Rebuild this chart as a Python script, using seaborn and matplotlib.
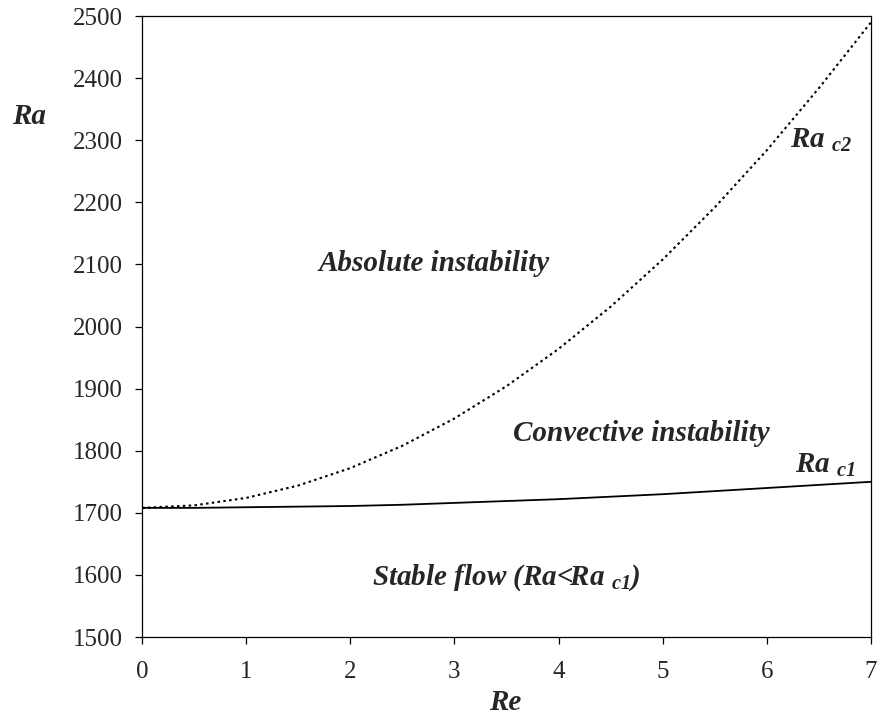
import matplotlib
matplotlib.use('Agg')
import matplotlib.pyplot as plt
import seaborn as sns
import pandas as pd

# stability boundaries
re_vals = [0, 0.5, 1, 1.5, 2, 2.5, 3, 3.5, 4, 4.5, 5, 5.5, 6, 6.5, 7]
ra_c1 = [1708, 1708, 1709, 1710, 1711, 1713, 1716, 1719, 1722, 1726, 1730, 1735, 1740, 1745, 1750]
ra_c2 = [1708, 1712, 1724, 1744, 1772, 1808, 1852, 1904, 1964, 2032, 2108, 2192, 2284, 2384, 2490]
x_ticks = [0, 1, 2, 3, 4, 5, 6, 7]
y_ticks = [1500, 1600, 1700, 1800, 1900, 2000, 2100, 2200, 2300, 2400, 2500]

sns.set_style("ticks")
plt.rcParams['font.family'] = ['Liberation Serif', 'DejaVu Serif']
plt.rcParams['mathtext.fontset'] = 'custom'
plt.rcParams['mathtext.rm'] = 'Liberation Serif'
plt.rcParams['mathtext.it'] = 'Liberation Serif:italic'
plt.rcParams['mathtext.bf'] = 'Liberation Serif:bold'
plt.rcParams['mathtext.bfit'] = 'Liberation Serif:italic:bold'

df = pd.DataFrame({'Re': re_vals, 'c1': ra_c1, 'c2': ra_c2})

fig = plt.figure(figsize=(8.8, 7.19), dpi=100)
ax = fig.add_axes([0.1614, 0.114, 0.9898 - 0.1614, 0.9777 - 0.114])

sns.lineplot(data=df, x='Re', y='c1', ax=ax, color='black', linewidth=1.3)
sns.lineplot(data=df, x='Re', y='c2', ax=ax, color='black', linewidth=1.5,
             linestyle=(0, (1.2, 1.6)))

ax.set_xlim(0, 7)
ax.set_ylim(1500, 2500)
ax.set_xticks(x_ticks)
ax.set_yticks(y_ticks)
ax.tick_params(axis='both', labelsize=18, direction='out', length=5, width=0.9, color='black')
ax.tick_params(axis='x', pad=12)
ax.tick_params(axis='y', pad=9)
for s in ax.spines.values():
    s.set_visible(True)
    s.set_color('black')
    s.set_linewidth(0.9)

ax.set_xlabel('')
ax.set_ylabel('')
fig.text(505 / 880, 1 - 702 / 719, 'Re', fontsize=21, fontweight='bold', fontstyle='italic',
         ha='center', va='center')
fig.text(12 / 880, 1 - 117 / 719, 'Ra', fontsize=21, fontweight='bold', fontstyle='italic',
         ha='left', va='center')

lab = dict(fontsize=21, fontweight='bold', fontstyle='italic', va='center', ha='left')
ax.text(1.69, 2102, 'Absolute instability', **lab)
ax.text(3.56, 1828, 'Convective instability', **lab)
ax.text(2.21, 1595, r'Stable flow (Ra<Ra$\mathbfit{\ _{c1}}$)', **lab)
ax.text(6.27, 1777, r'Ra$\mathbfit{\ _{c1}}$', **lab)
ax.text(6.22, 2300, r'Ra$\mathbfit{\ _{c2}}$', **lab)

fig.savefig('out.png', dpi=100)
